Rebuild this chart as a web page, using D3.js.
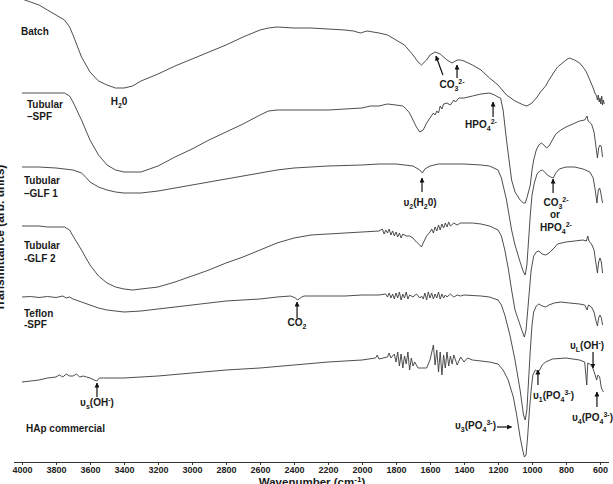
<!DOCTYPE html>
<html>
<head>
<meta charset="utf-8">
<script src="https://cdn.jsdelivr.net/npm/d3@7"></script>
<style>
  body { margin: 0; background: #fff; }
  svg { display: block; font-family: "Liberation Sans", Arial, sans-serif; font-weight: bold; }
</style>
</head>
<body>
<svg width="613" height="484"></svg>
<script>
// wavenumber ticks (cm-1)
const tickLabels = [4000, 3800, 3600, 3400, 3200, 3000, 2800, 2600, 2400, 2200, 2000, 1800, 1600, 1400, 1200, 1000, 800, 600];

// spectra: [wavenumber, transmittance (arb. units, offset stacked)]
const batch = [[4000,463],[3950,460],[3900,457],[3850,452],[3800,447],[3750,442],[3720,435],[3700,427],[3650,405],[3600,390],[3550,381],[3500,377],[3450,374],[3400,374],[3350,376],[3300,381],[3200,388],[3100,396],[3000,403],[2900,410],[2800,417],[2700,425],[2600,432],[2550,434],[2500,435],[2400,434],[2300,434],[2200,433],[2100,432],[2050,431],[2010,429],[1990,430],[1970,431],[1900,429],[1850,427],[1800,422],[1750,417],[1700,407],[1670,400],[1650,397],[1620,402],[1600,407],[1570,410],[1540,408],[1500,402],[1470,399],[1440,402],[1420,402],[1400,401],[1350,397],[1300,392],[1250,384],[1200,377],[1150,367],[1100,361],[1050,357],[1030,356],[1000,359],[970,365],[950,370],[920,376],[900,382],[870,390],[850,395],[800,402],[780,404],[750,402],[720,399],[700,395],[680,390],[660,382],[640,374],[630,369],[620,366],[615,362],[610,367],[605,360],[600,364],[595,358],[590,366],[585,357],[580,362],[575,358]];

const tubularSPF = [[4000,369],[3900,369],[3800,369],[3750,369],[3720,366],[3700,360],[3650,342],[3600,322],[3550,307],[3500,297],[3450,292],[3400,290],[3300,290],[3200,296],[3100,305],[3000,313],[2900,322],[2800,330],[2700,338],[2600,347],[2550,351],[2500,352],[2400,352],[2300,352],[2200,352],[2100,353],[2000,354],[1950,356],[1900,356],[1850,358],[1800,357],[1760,356],[1740,353],[1720,349],[1700,342],[1680,335],[1660,330],[1640,332],[1620,339],[1600,344],[1580,349],[1570,347],[1560,351],[1550,349],[1540,356],[1530,353],[1520,358],[1500,359],[1480,357],[1460,362],[1450,360],[1430,364],[1400,364],[1350,366],[1300,368],[1250,369],[1220,367],[1200,365],[1185,364],[1170,352],[1150,322],[1120,282],[1100,270],[1070,262],[1050,259],[1040,259],[1030,264],[1010,277],[1000,292],[990,302],[975,312],[960,317],[945,319],[930,317],[915,314],[900,316],[880,322],[860,328],[830,332],[800,335],[760,338],[720,341],[690,342],[676,346],[670,341],[650,338],[635,330],[625,317],[615,304],[608,314],[600,317],[592,315],[585,305]];

const tubularGLF1 = [[4000,295],[3900,295],[3800,294],[3700,292],[3650,289],[3620,284],[3600,280],[3550,275],[3500,272],[3450,270],[3400,269],[3300,269],[3200,271],[3100,274],[3000,277],[2900,280],[2800,283],[2700,286],[2600,289],[2500,292],[2400,294],[2300,295],[2200,296],[2100,296.5],[2000,297],[1900,298],[1800,298],[1700,296],[1660,292],[1645,289],[1630,293],[1600,296],[1550,298],[1500,298],[1400,298],[1300,297],[1250,296],[1200,292],[1180,284],[1150,262],[1120,232],[1100,217],[1070,200],[1050,190],[1040,187],[1030,197],[1020,222],[1010,247],[1000,267],[985,280],[970,288],[955,291],[940,292],[925,290],[910,287],[890,285],[875,284],[860,289],[840,293],[800,295],[750,295],[700,293],[660,290],[640,284],[628,272],[618,259],[610,272],[602,274],[595,269],[585,259]];

const tubularGLF2 = [[4000,236],[3900,236],[3850,235],[3800,235],[3750,235],[3720,232],[3700,226],[3650,212],[3600,197],[3550,186],[3500,179],[3450,175],[3400,173],[3350,172],[3300,173],[3200,175],[3100,180],[3000,186],[2900,192],[2800,199],[2700,205],[2600,212],[2500,219],[2400,224],[2300,227],[2200,228],[2100,229],[2000,230],[1900,231],[1880,233],[1870,228],[1860,232],[1850,229],[1840,233],[1830,227],[1820,231],[1810,226],[1800,230],[1790,225],[1780,229],[1770,224],[1760,228],[1740,226],[1720,226],[1700,224],[1680,220],[1660,217],[1650,215],[1640,219],[1620,226],[1600,230],[1590,233],[1580,229],[1570,235],[1560,231],[1550,237],[1540,232],[1530,238],[1520,234],[1510,239],[1500,235],[1490,240],[1480,236],[1460,239],[1440,237],[1420,239],[1400,239],[1350,239],[1300,238],[1250,236],[1200,232],[1180,226],[1160,212],[1140,194],[1120,172],[1100,152],[1080,142],[1060,132],[1045,125],[1035,132],[1020,162],[1005,192],[990,206],[975,210],[960,211],[940,208],[920,207],[900,209],[870,214],[850,218],[800,220],[750,221],[700,222],[680,221],[672,226],[665,221],[650,218],[635,212],[625,200],[615,189],[608,200],[600,204],[592,200],[585,189]];

const teflonSPF = [[4000,165],[3950,165.5],[3900,164.5],[3850,165.5],[3800,164.5],[3760,166],[3740,164],[3720,165],[3700,163],[3650,160],[3600,157],[3550,154],[3500,152],[3400,150],[3300,151],[3200,153],[3100,155],[3000,157],[2900,159],[2800,161],[2700,162],[2600,163],[2500,165],[2420,166],[2390,164],[2380,162],[2370,163],[2355,165],[2340,166],[2300,166],[2200,166],[2100,166],[2000,167],[1900,167],[1860,168],[1850,165],[1840,169],[1830,164],[1820,168],[1810,163],[1800,169],[1790,164],[1780,170],[1770,162],[1760,168],[1750,164],[1740,170],[1730,163],[1720,167],[1700,165],[1680,168],[1660,164],[1650,166],[1640,163],[1630,169],[1620,162],[1610,170],[1600,164],[1590,169],[1580,163],[1570,168],[1560,164],[1550,170],[1540,163],[1530,168],[1520,164],[1510,167],[1500,165],[1480,168],[1460,165],[1440,167],[1420,166],[1400,167],[1300,166],[1250,165],[1200,162],[1180,157],[1160,147],[1130,127],[1100,102],[1070,72],[1050,47],[1040,42],[1030,52],[1020,82],[1010,112],[1000,137],[990,150],[975,156],[960,158],[940,156],[920,155],[900,157],[870,159],[830,160],[780,159],[720,158],[690,157],[676,152],[668,157],[650,155],[635,150],[625,142],[615,136],[608,144],[600,147],[592,144],[585,137]];

const hapCommercial = [[4000,80],[3950,81],[3900,82],[3850,84],[3800,85],[3780,87],[3760,85],[3740,88],[3720,86],[3700,86],[3680,88],[3660,85],[3640,86],[3620,85],[3600,84],[3575,82],[3560,81],[3545,84],[3520,84],[3400,84],[3300,85],[3200,86],[3000,89],[2800,92],[2600,94],[2400,97],[2200,100],[2000,102],[1920,104],[1910,107],[1900,103],[1850,105],[1840,109],[1830,104],[1810,108],[1800,100],[1790,110],[1780,96],[1770,108],[1760,94],[1750,106],[1740,98],[1730,110],[1720,92],[1710,104],[1700,96],[1690,100],[1680,97],[1670,94],[1650,94],[1620,94],[1600,102],[1580,117],[1570,97],[1560,112],[1550,90],[1540,110],[1530,87],[1520,107],[1510,94],[1500,110],[1490,96],[1480,106],[1470,98],[1460,107],[1440,97],[1420,105],[1400,100],[1380,104],[1350,102],[1300,101],[1250,100],[1200,98],[1170,92],[1140,82],[1110,65],[1090,47],[1070,25],[1055,12],[1045,5],[1035,7],[1025,27],[1015,52],[1005,72],[995,87],[980,92],[965,90],[955,92],[940,97],[920,100],[880,103],[800,104],[720,102],[690,100],[678,77],[672,99],[660,98],[645,95],[632,89],[620,82],[612,87],[602,85],[592,74],[580,70]];

const spectra = [batch, tubularSPF, tubularGLF1, tubularGLF2, teflonSPF, hapCommercial];

const svg = d3.select("svg");
const x = d3.scaleLinear().domain([4050, 550]).range([13.5, 608.5]);
const y = d3.scaleLinear().domain([0, 462]).range([462, 0]);

const defs = svg.append("defs");
defs.append("marker")
    .attr("id", "head")
    .attr("viewBox", "0 0 10 10")
    .attr("refX", 9).attr("refY", 5)
    .attr("markerWidth", 5).attr("markerHeight", 5)
    .attr("markerUnits", "userSpaceOnUse")
    .attr("orient", "auto")
  .append("path")
    .attr("d", "M0,0L10,5L0,10z")
    .attr("fill", "#111");

const line = d3.line().x(d => x(d[0])).y(d => y(d[1]));

svg.append("g")
    .attr("fill", "none")
    .attr("stroke", "#3a3a3a")
    .attr("stroke-width", 0.9)
    .attr("stroke-linejoin", "round")
  .selectAll("path")
  .data(spectra)
  .join("path")
    .attr("d", line);

// x axis
const axis = svg.append("g")
    .attr("transform", `translate(0,${y(0)})`)
    .call(d3.axisBottom(x).tickValues(tickLabels).tickSize(3).tickSizeOuter(0).tickPadding(2).tickFormat(d3.format("d")));
axis.select(".domain").attr("stroke", "#333");
axis.selectAll(".tick line").attr("stroke", "#333");
axis.selectAll("text")
    .attr("font-size", 9)
    .attr("font-weight", "bold")
    .attr("font-family", "Liberation Sans, Arial, sans-serif")
    .attr("fill", "#222");

// rich text with sub/superscripts: segments [text, kind]
function rich(g, px, py, segs, anchor, size) {
  size = size || 10;
  const t = g.append("text")
      .attr("x", px).attr("y", py)
      .attr("text-anchor", anchor || "start")
      .attr("font-size", size)
      .attr("fill", "#1a1a1a");
  let cur = 0;
  segs.forEach(([s, k]) => {
    const off = k === "sub" ? 3 : k === "sup" ? -4 : 0;
    t.append("tspan")
        .attr("dy", off - cur)
        .attr("font-size", k ? size * 0.7 : size)
        .text(s);
    cur = off;
  });
  return t;
}

const titles = svg.append("g");
rich(titles, 312, 486, [["Wavenumber (cm", ""], ["-1", "sup"], [")", ""]], "middle", 11.5);
titles.append("text")
    .attr("transform", "translate(4,238) rotate(-90)")
    .attr("text-anchor", "middle")
    .attr("font-size", 12)
    .attr("fill", "#1a1a1a")
    .text("Transmittance (arb. units)");

// sample names
const names = svg.append("g");
[["Batch", 21, 35], ["Tubular", 27, 108], ["\u2013SPF", 27, 120],
 ["Tubular", 24, 184], ["\u2013GLF 1", 24, 197],
 ["Tubular", 24, 249], ["-GLF 2", 24, 262],
 ["Teflon", 24, 317], ["-SPF", 24, 328],
 ["HAp commercial", 26, 432]].forEach(([s, px, py]) => rich(names, px, py, [[s, ""]]));

// band annotations
const ann = svg.append("g");
rich(ann, 119, 105, [["H", ""], ["2", "sub"], ["0", ""]], "middle");
rich(ann, 452, 88, [["CO", ""], ["3", "sub"], ["2-", "sup"]], "middle");
rich(ann, 481, 128, [["HPO", ""], ["4", "sub"], ["2-", "sup"]], "middle");
rich(ann, 420, 206, [["\u03c5", ""], ["2", "sub"], ["(H", ""], ["2", "sub"], ["0)", ""]], "middle");
rich(ann, 556, 206, [["CO", ""], ["3", "sub"], ["2-", "sup"]], "middle");
rich(ann, 555, 218, [["or", ""]], "middle");
rich(ann, 556, 231, [["HPO", ""], ["4", "sub"], ["2-", "sup"]], "middle");
rich(ann, 297, 326, [["CO", ""], ["2", "sub"]], "middle");
rich(ann, 97, 406, [["\u03c5", ""], ["s", "sub"], ["(OH", ""], ["-", "sup"], [")", ""]], "middle");
rich(ann, 496, 429, [["\u03c5", ""], ["3", "sub"], ["(PO", ""], ["4", "sub"], ["3-", "sup"], [")", ""]], "end");
rich(ann, 533, 399, [["\u03c5", ""], ["1", "sub"], ["(PO", ""], ["4", "sub"], ["3-", "sup"], [")", ""]], "start");
rich(ann, 570, 349, [["\u03c5", ""], ["L", "sub"], ["(OH", ""], ["-", "sup"], [")", ""]], "start");
rich(ann, 572, 421, [["\u03c5", ""], ["4", "sub"], ["(PO", ""], ["4", "sub"], ["3-", "sup"], [")", ""]], "start");

// arrows: [w tail, v tail, w head, v head]
const arrows = [
  [1524, 387, 1565, 406],
  [1441, 384, 1441, 397],
  [1229, 345, 1229, 360],
  [1647, 270, 1647, 284],
  [876, 269, 876, 283],
  [2382, 144, 2382, 160],
  [3559, 65, 3559, 79],
  [1206, 35, 1120, 35],
  [965, 77, 965, 92],
  [641, 110, 641, 94],
  [618, 55, 618, 70]
];
ann.selectAll("line.arrow")
  .data(arrows)
  .join("line")
    .attr("class", "arrow")
    .attr("x1", d => x(d[0])).attr("y1", d => y(d[1]))
    .attr("x2", d => x(d[2])).attr("y2", d => y(d[3]))
    .attr("stroke", "#111")
    .attr("stroke-width", 1.2)
    .attr("marker-end", "url(#head)");
</script>
</body>
</html>
